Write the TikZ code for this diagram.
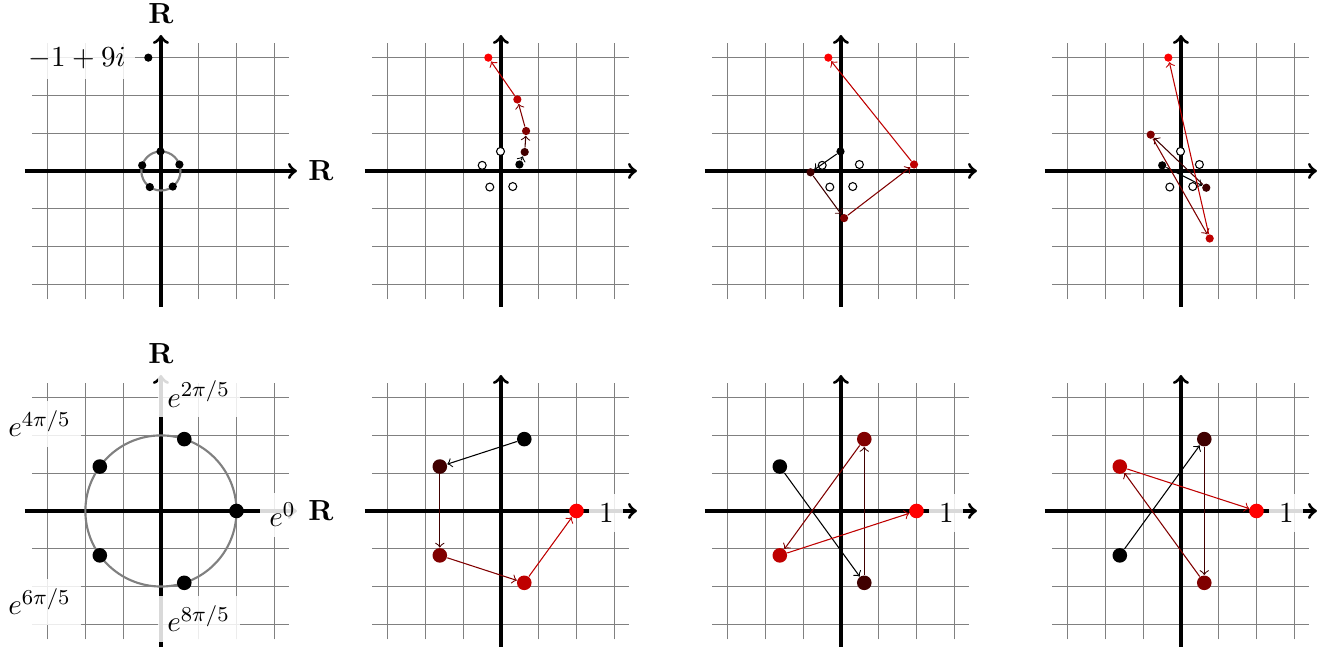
\documentclass[tikz,border=0pt]{standalone}
\colorlet{cA}{black}
\colorlet{cB}{red!25!black}
\colorlet{cC}{red!50!black}
\colorlet{cD}{red!75!black}
\colorlet{cE}{red}
\tikzset{
  gridline/.style={gray, thin},
  axisline/.style={->, very thick},
  rootcircle/.style={gray, thick},
  sdot/.style={circle, fill=#1, draw=none, inner sep=0pt, minimum size=3.1pt},
  hdot/.style={circle, draw=black, fill=white, inner sep=0pt, minimum size=3pt, line width=0.4pt},
  bdot/.style={circle, fill=#1, draw=none, inner sep=0pt, minimum size=5.5pt},
  conn/.style={->, thin, draw=#1},
  lab/.style={fill=white, fill opacity=0.85, text opacity=1},
}
\newcommand\pnlgrid{%
  \foreach \i in {-3,...,3}{%
    \draw[gridline] (\i,-3.4) -- (\i,3.4);
    \draw[gridline] (-3.4,\i) -- (3.4,\i);
  }%
}
\begin{document}
\fontsize{11}{13}\selectfont
\begin{tikzpicture}[x=0.5cm, y=0.5cm]
\useasboundingbox (-4.26,-12.68) rectangle (30.92,4.526);

% ---------------- top row, panel 1 ----------------
\begin{scope}
  \pnlgrid
  \draw[axisline] (-3.6,0) -- (3.6,0) node[right] (t1xl) {$\mathbf{R}$};
  \draw[axisline] (0,-3.6) -- (0,3.6) node[above] (t1yl) {$\mathbf{R}$};
  \draw[rootcircle] (0,0) circle (0.5179);
  \foreach \k in {0,...,4}{\node[sdot=black] (t1r\k) at ({19.268+72*\k}:0.5179) {};}
  \node[sdot=black] (t1z) at (96.34:3.0185) {};
  \node[lab, anchor=base east] (t1zl) at (-0.66,2.76) {$-1+9i$};
\end{scope}

% ---------------- top row, panel 2 ----------------
\begin{scope}[shift={(9,0)}]
  \pnlgrid
  \draw[axisline] (-3.6,0) -- (3.6,0);
  \draw[axisline] (0,-3.6) -- (0,3.6);
  \node[hdot] (t2h1) at (91.268:0.5179) {};
  \node[hdot] (t2h2) at (163.268:0.5179) {};
  \node[hdot] (t2h3) at (235.268:0.5179) {};
  \node[hdot] (t2h4) at (307.268:0.5179) {};
  \node[sdot=cA] (t2p1) at (19.268:0.5179) {};
  \node[sdot=cB] (t2p2) at (38.536:0.8047) {};
  \node[sdot=cC] (t2p3) at (57.804:1.2502) {};
  \node[sdot=cD] (t2p4) at (77.072:1.9425) {};
  \node[sdot=cE] (t2p5) at (96.34:3.0185) {};
  \draw[conn=cA] (t2p1) -- (t2p2);
  \draw[conn=cB] (t2p2) -- (t2p3);
  \draw[conn=cC] (t2p3) -- (t2p4);
  \draw[conn=cD] (t2p4) -- (t2p5);
\end{scope}

% ---------------- top row, panel 3 ----------------
\begin{scope}[shift={(18,0)}]
  \pnlgrid
  \draw[axisline] (-3.6,0) -- (3.6,0);
  \draw[axisline] (0,-3.6) -- (0,3.6);
  \node[hdot] (t3h1) at (19.268:0.5179) {};
  \node[hdot] (t3h2) at (163.268:0.5179) {};
  \node[hdot] (t3h3) at (235.268:0.5179) {};
  \node[hdot] (t3h4) at (307.268:0.5179) {};
  \node[sdot=cA] (t3p1) at (91.268:0.5179) {};
  \node[sdot=cB] (t3p2) at (182.536:0.8047) {};
  \node[sdot=cC] (t3p3) at (273.804:1.2502) {};
  \node[sdot=cD] (t3p4) at (365.072:1.9425) {};
  \node[sdot=cE] (t3p5) at (456.34:3.0185) {};
  \draw[conn=cA] (t3p1) -- (t3p2);
  \draw[conn=cB] (t3p2) -- (t3p3);
  \draw[conn=cC] (t3p3) -- (t3p4);
  \draw[conn=cD] (t3p4) -- (t3p5);
\end{scope}

% ---------------- top row, panel 4 ----------------
\begin{scope}[shift={(27,0)}]
  \pnlgrid
  \draw[axisline] (-3.6,0) -- (3.6,0);
  \draw[axisline] (0,-3.6) -- (0,3.6);
  \node[hdot] (t4h1) at (19.268:0.5179) {};
  \node[hdot] (t4h2) at (91.268:0.5179) {};
  \node[hdot] (t4h3) at (235.268:0.5179) {};
  \node[hdot] (t4h4) at (307.268:0.5179) {};
  \node[sdot=cA] (t4p1) at (163.268:0.5179) {};
  \node[sdot=cB] (t4p2) at (326.536:0.8047) {};
  \node[sdot=cC] (t4p3) at (489.804:1.2502) {};
  \node[sdot=cD] (t4p4) at (653.072:1.9425) {};
  \node[sdot=cE] (t4p5) at (816.34:3.0185) {};
  \draw[conn=cA] (t4p1) -- (t4p2);
  \draw[conn=cB] (t4p2) -- (t4p3);
  \draw[conn=cC] (t4p3) -- (t4p4);
  \draw[conn=cD] (t4p4) -- (t4p5);
\end{scope}

% ---------------- bottom row, panel 1 ----------------
\begin{scope}[shift={(0,-9)}]
  \pnlgrid
  \draw[axisline] (-3.6,0) -- (3.6,0) node[right] (b1xl) {$\mathbf{R}$};
  \draw[axisline] (0,-3.6) -- (0,3.6) node[above] (b1yl) {$\mathbf{R}$};
  \draw[rootcircle] (0,0) circle (2);
  \foreach \k in {0,...,4}{\node[bdot=black] (b1r\k) at ({72*\k}:2) {};}
  \node[lab, anchor=base west] (b1l0) at (2.6,-0.42) {$e^{0}$};
  \node[lab, anchor=base west] (b1l1) at (-0.1,2.75) {$e^{2\pi/5}$};
  \node[lab, anchor=base west] (b1l2) at (-4.31,1.96) {$e^{4\pi/5}$};
  \node[lab, anchor=base west] (b1l3) at (-4.31,-2.75) {$e^{6\pi/5}$};
  \node[lab, anchor=base west] (b1l4) at (-0.1,-3.2) {$e^{8\pi/5}$};
\end{scope}

% ---------------- bottom row, panel 2 ----------------
\begin{scope}[shift={(9,-9)}]
  \pnlgrid
  \draw[axisline] (-3.6,0) -- (3.6,0);
  \draw[axisline] (0,-3.6) -- (0,3.6);
  \node[lab] (b2one) at (2.79,-0.05) {$1$};
  \node[bdot=cA] (b2p1) at (72:2) {};
  \node[bdot=cB] (b2p2) at (144:2) {};
  \node[bdot=cC] (b2p3) at (216:2) {};
  \node[bdot=cD] (b2p4) at (288:2) {};
  \node[bdot=cE] (b2p5) at (0:2) {};
  \draw[conn=cA] (b2p1) -- (b2p2);
  \draw[conn=cB] (b2p2) -- (b2p3);
  \draw[conn=cC] (b2p3) -- (b2p4);
  \draw[conn=cD] (b2p4) -- (b2p5);
\end{scope}

% ---------------- bottom row, panel 3 ----------------
\begin{scope}[shift={(18,-9)}]
  \pnlgrid
  \draw[axisline] (-3.6,0) -- (3.6,0);
  \draw[axisline] (0,-3.6) -- (0,3.6);
  \node[lab] (b3one) at (2.79,-0.05) {$1$};
  \node[bdot=cA] (b3p1) at (144:2) {};
  \node[bdot=cB] (b3p2) at (288:2) {};
  \node[bdot=cC] (b3p3) at (72:2) {};
  \node[bdot=cD] (b3p4) at (216:2) {};
  \node[bdot=cE] (b3p5) at (0:2) {};
  \draw[conn=cA] (b3p1) -- (b3p2);
  \draw[conn=cB] (b3p2) -- (b3p3);
  \draw[conn=cC] (b3p3) -- (b3p4);
  \draw[conn=cD] (b3p4) -- (b3p5);
\end{scope}

% ---------------- bottom row, panel 4 ----------------
\begin{scope}[shift={(27,-9)}]
  \pnlgrid
  \draw[axisline] (-3.6,0) -- (3.6,0);
  \draw[axisline] (0,-3.6) -- (0,3.6);
  \node[lab] (b4one) at (2.79,-0.05) {$1$};
  \node[bdot=cA] (b4p1) at (216:2) {};
  \node[bdot=cB] (b4p2) at (72:2) {};
  \node[bdot=cC] (b4p3) at (288:2) {};
  \node[bdot=cD] (b4p4) at (144:2) {};
  \node[bdot=cE] (b4p5) at (0:2) {};
  \draw[conn=cA] (b4p1) -- (b4p2);
  \draw[conn=cB] (b4p2) -- (b4p3);
  \draw[conn=cC] (b4p3) -- (b4p4);
  \draw[conn=cD] (b4p4) -- (b4p5);
\end{scope}
\end{tikzpicture}
\end{document}
